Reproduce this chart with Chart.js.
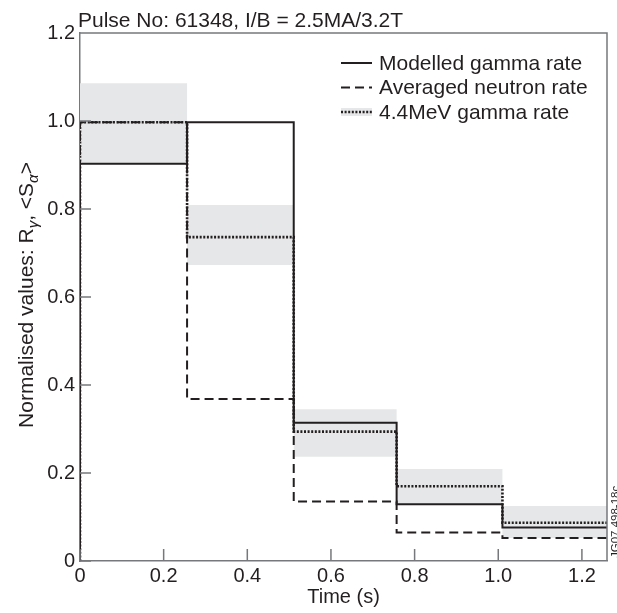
<!DOCTYPE html>
<html>
<head>
<meta charset="utf-8">
<script src="https://cdn.jsdelivr.net/npm/chart.js@4.4.1/dist/chart.umd.min.js"></script>
<style>
  body { margin: 0; background: #fff; }
  canvas { display: block; }
</style>
</head>
<body>
<canvas id="pulseChart" width="617" height="613"></canvas>
<script>
// time bins (s) and step heights
const binEdges = [0, 0.256, 0.511, 0.757, 1.01, 1.26];
const modelledGamma = [0.903, 0.997, 0.314, 0.129, 0.076];
const averagedNeutron = [0.997, 0.368, 0.135, 0.065, 0.052];
const measuredGamma = [0.997, 0.736, 0.294, 0.170, 0.087];
const measuredHigh = [1.086, 0.809, 0.345, 0.209, 0.125];
const measuredLow = [0.905, 0.673, 0.237, 0.129, 0.052];

const xTickValues = [0, 0.2, 0.4, 0.6, 0.8, 1.0, 1.2];
const xTickLabels = ["0", "0.2", "0.4", "0.6", "0.8", "1.0", "1.2"];
const yTickValues = [0, 0.2, 0.4, 0.6, 0.8, 1.0, 1.2];
const yTickLabels = ["0", "0.2", "0.4", "0.6", "0.8", "1.0", "1.2"];

const seriesLabels = ["Modelled gamma rate", "Averaged neutron rate", "4.4MeV gamma rate"];
const chartTitle = "Pulse No: 61348, I/B = 2.5MA/3.2T";
const yTitleParts = [["Normalised values: R", false], ["\u03b3", true], [", <S", false], ["\u03b1", true], [">", false]];
const figureTag = "JG07.498-18c";

const ink = "#231f20";
const axisGray = "#77787b";
const bandGray = "#e6e7e8";
const FONT = "'Liberation Sans', Arial, Helvetica, sans-serif";

Chart.defaults.font.family = FONT;
Chart.defaults.color = ink;

// stepped points; optionally rise from zero at t = 0
function stepPoints(vals, fromZero) {
  const pts = fromZero ? [{ x: binEdges[0], y: 0 }] : [];
  vals.forEach((v, i) => pts.push({ x: binEdges[i], y: v }));
  pts.push({ x: binEdges[binEdges.length - 1], y: vals[vals.length - 1] });
  return pts;
}

// "before": hold previous value until the next edge, then jump
const lineBase = { stepped: "before", pointRadius: 0, fill: false, tension: 0 };

const decor = {
  id: "decor",
  afterDatasetsDraw(chart) {
    const { ctx, chartArea: a, scales: { x, y } } = chart;
    ctx.save();

    // frame top/right + inward ticks
    ctx.strokeStyle = axisGray;
    ctx.lineWidth = 1.5;
    ctx.beginPath();
    ctx.moveTo(a.left, a.top);
    ctx.lineTo(a.right, a.top);
    ctx.lineTo(a.right, a.bottom);
    xTickValues.forEach(v => {
      const px = x.getPixelForValue(v);
      ctx.moveTo(px, a.bottom);
      ctx.lineTo(px, a.bottom - 12);
    });
    yTickValues.forEach(v => {
      const py = y.getPixelForValue(v);
      ctx.moveTo(a.left, py);
      ctx.lineTo(a.left + 11, py);
    });
    ctx.stroke();

    // title
    ctx.fillStyle = ink;
    ctx.font = "21px " + FONT;
    ctx.textAlign = "left";
    ctx.textBaseline = "alphabetic";
    ctx.fillText(chartTitle, 78, 27);

    // legend
    const rows = [63, 87.5, 112];
    const x0 = 341, x1 = 372;
    ctx.fillStyle = bandGray;
    ctx.fillRect(x0, rows[2] - 4, x1 - x0, 8);
    const styles = [[], [9, 5], [2, 1.6]];
    const widths = [2, 2, 2.6];
    rows.forEach((ry, i) => {
      ctx.strokeStyle = ink;
      ctx.lineWidth = widths[i];
      ctx.setLineDash(styles[i]);
      ctx.beginPath();
      ctx.moveTo(x0, ry);
      ctx.lineTo(x1, ry);
      ctx.stroke();
    });
    ctx.setLineDash([]);
    ctx.fillStyle = ink;
    ctx.font = "21px " + FONT;
    ctx.textBaseline = "middle";
    rows.forEach((ry, i) => ctx.fillText(seriesLabels[i], 379, ry + 1));

    // y title with subscripts
    ctx.save();
    ctx.translate(33, 295);
    ctx.rotate(-Math.PI / 2);
    ctx.textBaseline = "alphabetic";
    const mainFont = "21px " + FONT;
    const subFont = "italic 15px " + FONT;
    let total = 0;
    yTitleParts.forEach(([t, sub]) => {
      ctx.font = sub ? subFont : mainFont;
      total += ctx.measureText(t).width;
    });
    let cx = -total / 2;
    yTitleParts.forEach(([t, sub]) => {
      ctx.font = sub ? subFont : mainFont;
      ctx.fillText(t, cx, sub ? 5 : 0);
      cx += ctx.measureText(t).width;
    });
    ctx.restore();

    // figure tag on the right edge
    ctx.save();
    ctx.translate(619, 558);
    ctx.rotate(-Math.PI / 2);
    ctx.font = "11.5px " + FONT;
    ctx.fillStyle = ink;
    ctx.textAlign = "left";
    ctx.textBaseline = "alphabetic";
    ctx.fillText(figureTag, 0, 0);
    ctx.restore();

    ctx.restore();
  }
};

new Chart(document.getElementById("pulseChart").getContext("2d"), {
  type: "line",
  data: {
    datasets: [
      { ...lineBase, label: "band high", data: stepPoints(measuredHigh, false),
        borderColor: "rgba(0,0,0,0)", borderWidth: 1, order: 5 },
      { ...lineBase, label: "band low", data: stepPoints(measuredLow, false),
        borderColor: "rgba(0,0,0,0)", borderWidth: 1, fill: "-1", backgroundColor: bandGray, order: 4 },
      { ...lineBase, label: seriesLabels[1], data: stepPoints(averagedNeutron, true),
        borderColor: ink, borderWidth: 2, borderDash: [9, 5], order: 3 },
      { ...lineBase, label: seriesLabels[0], data: stepPoints(modelledGamma, true),
        borderColor: ink, borderWidth: 2, order: 2 },
      { ...lineBase, label: seriesLabels[2], data: stepPoints(measuredGamma, true),
        borderColor: ink, borderWidth: 2.6, borderDash: [2, 1.6], order: 1 }
    ]
  },
  options: {
    responsive: false,
    animation: false,
    events: [],
    layout: { padding: { top: 33, right: 10, left: 0, bottom: 0 } },
    plugins: { legend: { display: false }, tooltip: { enabled: false }, title: { display: false } },
    scales: {
      x: {
        type: "linear",
        min: 0,
        max: binEdges[binEdges.length - 1],
        afterBuildTicks: s => { s.ticks = xTickValues.map(v => ({ value: v })); },
        afterFit: s => { s.height = 52; },
        ticks: { callback: (v, i) => xTickLabels[i], padding: 3, font: { size: 20 }, color: ink, maxRotation: 0, autoSkip: false },
        grid: { display: false, drawTicks: false },
        border: { display: true, color: axisGray, width: 1.5 },
        title: { display: true, text: "Time (s)", font: { size: 20 }, color: ink, padding: { top: 2, bottom: 4 } }
      },
      y: {
        type: "linear",
        min: 0,
        max: 1.2,
        afterBuildTicks: s => { s.ticks = yTickValues.map(v => ({ value: v })); },
        afterFit: s => { s.width = 80; },
        ticks: { callback: (v, i) => yTickLabels[i], padding: 5, font: { size: 20 }, color: ink, autoSkip: false },
        grid: { display: false, drawTicks: false },
        border: { display: true, color: axisGray, width: 1.5 }
      }
    }
  },
  plugins: [decor]
});
</script>
</body>
</html>
